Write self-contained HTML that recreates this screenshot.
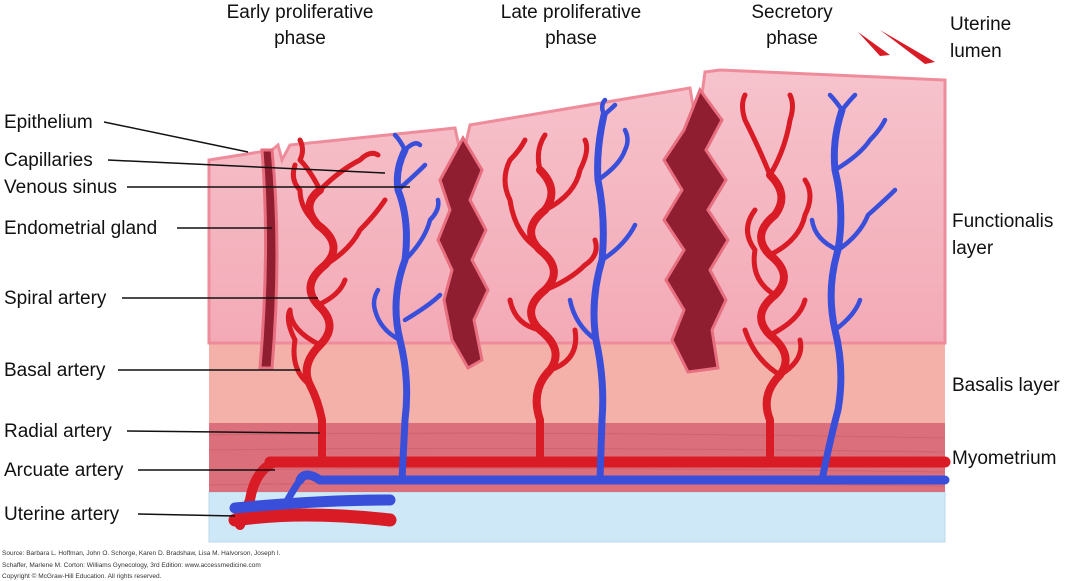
<!DOCTYPE html>
<html><head><style>
body{margin:0;background:#fff;width:1070px;height:581px;overflow:hidden;font-family:"Liberation Sans",sans-serif}
svg{display:block}
</style></head><body>
<svg width="1070" height="581" viewBox="0 0 1070 581" xmlns="http://www.w3.org/2000/svg">
<defs>
<linearGradient id="fn" x1="0" y1="0" x2="0" y2="1"><stop offset="0" stop-color="#f6c3cc"/><stop offset="1" stop-color="#f3aab6"/></linearGradient>
</defs>
<rect x="209" y="492" width="736" height="50" fill="#cfe8f8" stroke="#b8d8ea"/>
<rect x="209" y="423" width="736" height="69" fill="#dc6f7c"/>
<g stroke="#c95a68" stroke-width="1" opacity=".6" fill="none">
<path d="M209 435 Q500 430 945 438"/><path d="M209 450 Q500 446 945 452"/><path d="M209 470 Q500 466 945 472"/><path d="M209 485 Q500 480 945 486"/></g>
<rect x="209" y="343" width="736" height="80" fill="#f4b1aa"/>
<path d="M209 160 L272 150 L278 145 L282 160 L290 145 L455 128 L462 160 L470 125 L690 88 L697 130 L705 72 L720 70 L945 80 L945 343 L209 343 Z" fill="url(#fn)" stroke="#ee8c9c" stroke-width="3"/>
<!-- glands -->
<path d="M272 150 Q282 250 272 368 L260 368 Q270 250 262 150 Z" fill="#8e1e30" stroke="#e76f80" stroke-width="3"/>
<path d="M463 138 L482 170 L470 200 L486 230 L472 260 L488 290 L474 320 L482 360 L468 368 L452 340 L444 300 L452 270 L438 240 L450 210 L440 180 Z" fill="#8e1e30" stroke="#e76f80" stroke-width="3"/>
<path d="M700 90 L722 120 L706 150 L726 180 L708 210 L728 240 L710 270 L726 300 L712 330 L718 368 L688 372 L672 340 L684 310 L666 280 L684 250 L664 220 L682 190 L664 160 L684 130 Z" fill="#8e1e30" stroke="#e76f80" stroke-width="3"/>
<!-- arteries -->
<g fill="none" stroke="#d81b25" stroke-linecap="round" stroke-linejoin="round">
<path stroke-width="11" d="M270 462 L945 462"/>
<path stroke-width="10" d="M275 462 Q255 470 250 500 L240 525"/>
<path stroke-width="13" d="M235 520 Q300 510 390 520"/>
<path stroke-width="8" d="M322 460 L322 420 Q318 400 310 385 Q300 365 320 345 Q340 325 318 305 Q300 285 325 265 Q345 245 318 225 Q300 205 320 190"/>
<path stroke-width="5" d="M310 385 Q290 370 295 340 M320 345 Q290 330 290 310 M325 265 Q350 250 360 230 M318 225 Q300 210 300 190 M320 190 Q340 170 360 160 M320 190 Q310 170 300 160 M360 230 Q375 215 385 200 M295 340 Q285 320 290 310 M300 190 Q290 180 295 165 M360 160 Q370 150 378 155 M318 305 Q340 295 345 280 M300 160 Q305 150 300 140"/>
<path stroke-width="8" d="M540 460 L540 420 Q530 390 550 370 Q565 350 540 330 Q520 310 545 290 Q565 270 540 250 Q520 230 545 210 Q560 190 540 170"/>
<path stroke-width="5" d="M545 290 Q570 280 585 265 M540 250 Q515 235 510 200 M545 210 Q575 195 580 170 M540 170 Q535 150 545 135 M510 200 Q500 180 510 160 M580 170 Q590 150 585 140 M550 370 Q580 360 575 330 M540 330 Q515 325 510 300 M585 265 Q600 255 595 240 M510 160 Q520 150 525 140"/>
<path stroke-width="8" d="M770 460 L770 420 Q760 395 780 375 Q795 355 770 335 Q750 315 775 295 Q795 275 770 255 Q750 235 775 215 Q790 195 770 175"/>
<path stroke-width="5" d="M780 375 Q805 360 800 340 M775 295 Q750 280 755 250 M770 255 Q800 240 805 215 M770 175 Q760 150 745 120 M770 175 Q785 150 790 120 M755 250 Q740 230 755 210 M805 215 Q815 195 805 180 M780 375 Q755 360 745 330 M745 120 Q740 105 745 95 M790 120 Q795 105 790 95 M770 335 Q800 320 805 300"/>
</g>
<!-- veins -->
<g fill="none" stroke="#3a4fd9" stroke-linecap="round" stroke-linejoin="round">
<path stroke-width="9" d="M300 480 Q305 470 320 480 L945 480"/>
<path stroke-width="11" d="M235 508 Q320 500 390 500"/>
<path stroke-width="7" d="M300 480 Q290 495 285 505"/>
<path stroke-width="7" d="M402 480 L405 420 Q410 380 400 340 Q390 300 405 260 Q410 220 398 190 Q395 170 405 150"/>
<path stroke-width="4.5" d="M400 340 Q380 330 375 310 M405 260 Q425 240 430 220 M398 190 Q415 175 425 165 M405 320 Q430 305 440 295 M405 150 Q400 140 395 135 M405 150 Q415 140 420 145 M375 310 Q372 300 378 290 M430 220 Q440 210 438 200"/>
<path stroke-width="7" d="M600 480 L602 420 Q605 380 596 340 Q590 300 602 260 Q606 220 598 180 Q596 150 604 115"/>
<path stroke-width="4.5" d="M602 260 Q625 245 635 225 M598 180 Q620 165 625 150 M596 340 Q575 325 570 300 M604 115 Q612 108 615 105 M625 150 Q630 140 625 130 M604 115 Q600 105 605 100"/>
<path stroke-width="7" d="M822 480 Q830 440 838 410 Q845 370 835 330 Q826 290 838 250 Q845 210 835 170 Q832 140 842 110"/>
<path stroke-width="4.5" d="M838 250 Q860 235 868 215 M835 170 Q860 155 870 140 M835 330 Q855 315 860 300 M868 215 Q885 200 895 190 M842 110 Q850 100 855 95 M870 140 Q880 130 885 120 M838 250 Q815 240 812 220 M842 110 Q835 100 830 95"/>
</g>
<path d="M858 32 L890 55 L880 56 Z M880 30 L935 62 L925 64 Z" fill="#d81b25"/>
<g font-size="19" fill="#111" text-anchor="middle">
<text x="300" y="18">Early proliferative</text><text x="300" y="44">phase</text>
<text x="571" y="18">Late proliferative</text><text x="571" y="44">phase</text>
<text x="792" y="18">Secretory</text><text x="792" y="44">phase</text>
</g>
<g font-size="19" fill="#111">
<text x="950" y="30">Uterine</text><text x="950" y="57">lumen</text>
<text x="952" y="227">Functionalis</text><text x="952" y="254">layer</text>
<text x="952" y="391">Basalis layer</text>
<text x="952" y="464">Myometrium</text>
<text x="4" y="128">Epithelium</text>
<text x="4" y="166">Capillaries</text>
<text x="4" y="193">Venous sinus</text>
<text x="4" y="234">Endometrial gland</text>
<text x="4" y="304">Spiral artery</text>
<text x="4" y="376">Basal artery</text>
<text x="4" y="437">Radial artery</text>
<text x="4" y="476">Arcuate artery</text>
<text x="4" y="520">Uterine artery</text>
</g>
<g stroke="#111" stroke-width="1.5">
<line x1="104" y1="122" x2="248" y2="152"/>
<line x1="108" y1="160" x2="385" y2="173"/>
<line x1="127" y1="187" x2="410" y2="187"/>
<line x1="177" y1="228" x2="272" y2="228"/>
<line x1="122" y1="298" x2="318" y2="298"/>
<line x1="118" y1="370" x2="300" y2="370"/>
<line x1="127" y1="431" x2="320" y2="433"/>
<line x1="138" y1="470" x2="275" y2="470"/>
<line x1="138" y1="514" x2="235" y2="516"/>
</g>
<g font-size="6.5" fill="#333">
<text x="2" y="555">Source: Barbara L. Hoffman, John O. Schorge, Karen D. Bradshaw, Lisa M. Halvorson, Joseph I.</text>
<text x="2" y="567">Schaffer, Marlene M. Corton: Williams Gynecology, 3rd Edition: www.accessmedicine.com</text>
<text x="2" y="578">Copyright © McGraw-Hill Education. All rights reserved.</text>
</g>
</svg>
</body></html>
